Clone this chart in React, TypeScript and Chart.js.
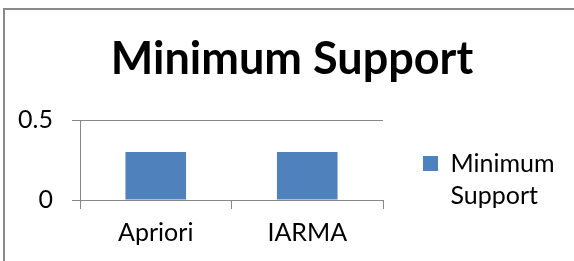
import React, { useEffect, useRef } from 'react';
import { Chart, registerables } from 'chart.js';

Chart.register(...registerables);

const chartTitle = 'Minimum Support';
const categories = ['Apriori', 'IARMA'];
const seriesName = 'Minimum Support';
const minimumSupport = [0.3, 0.3];
const yMin = 0;
const yMax = 0.5;
const yStep = 0.5;

const FONT = "Lato, 'Open Sans', sans-serif";
const AXIS_GRAY = '#868686';
const BAR_BLUE = '#4F81BD';

export default function App() {
  const ref = useRef<HTMLCanvasElement>(null);

  useEffect(() => {
    if (!ref.current) return;
    const legendWidth = {
      id: 'legendWidth',
      afterInit(chart: any) {
        const lg = chart.legend;
        if (!lg) return;
        const orig = lg.fit;
        lg.fit = function () {
          orig.call(this);
          this.width = 191;
        };
      },
    };
    const chart = new Chart(ref.current, {
      type: 'bar',
      data: {
        labels: categories,
        datasets: [
          {
            label: seriesName,
            data: minimumSupport,
            backgroundColor: BAR_BLUE,
            borderWidth: 0,
            barPercentage: 0.4,
            categoryPercentage: 1,
          },
        ],
      },
      options: {
        responsive: false,
        animation: false,
        layout: { padding: { left: 10, right: 0, top: 0, bottom: 6 } },
        plugins: {
          title: {
            display: true,
            text: chartTitle,
            color: '#000',
            font: { family: FONT, size: 45, weight: 'bold', lineHeight: 1.2 },
            padding: { top: 32, bottom: 34 },
          },
          legend: {
            position: 'right',
            align: 'end',
            labels: {
              boxWidth: 15,
              boxHeight: 15,
              padding: 40,
              color: '#000',
              font: { family: FONT, size: 25, lineHeight: 1.28 },
              generateLabels: (c: any) =>
                Chart.defaults.plugins.legend.labels
                  .generateLabels(c)
                  .map((it: any) => ({ ...it, text: String(it.text).split(' ') })),
            },
          },
          tooltip: { enabled: false },
        },
        scales: {
          x: {
            offset: true,
            grid: {
              display: true,
              drawOnChartArea: false,
              drawTicks: true,
              tickLength: 9,
              color: AXIS_GRAY,
            },
            border: { display: true, color: AXIS_GRAY },
            ticks: { color: '#000', font: { family: FONT, size: 25 }, padding: 9 },
            afterFit: (s: any) => {
              s.height = 55;
            },
          },
          y: {
            min: yMin,
            max: yMax,
            grid: { color: AXIS_GRAY, tickLength: 8, drawTicks: true },
            border: { display: true, color: AXIS_GRAY },
            ticks: {
              stepSize: yStep,
              color: '#000',
              font: { family: FONT, size: 25 },
              padding: 19,
            },
            afterFit: (s: any) => {
              s.width = 70;
            },
          },
        },
      },
      plugins: [legendWidth],
    } as any);
    return () => chart.destroy();
  }, []);

  return (
    <div
      style={{
        position: 'fixed',
        left: 0,
        top: 0,
        width: 574,
        height: 261,
        overflow: 'hidden',
        background: '#fff',
      }}
    >
      <div
        style={{
          position: 'absolute',
          left: 3,
          top: 8,
          width: 1000,
          height: 1000,
          border: '2px solid #8a8a8a',
          boxSizing: 'border-box',
        }}
      />
      <canvas
        ref={ref}
        width={574}
        height={261}
        style={{ position: 'absolute', left: 0, top: 0, display: 'block' }}
      />
    </div>
  );
}
